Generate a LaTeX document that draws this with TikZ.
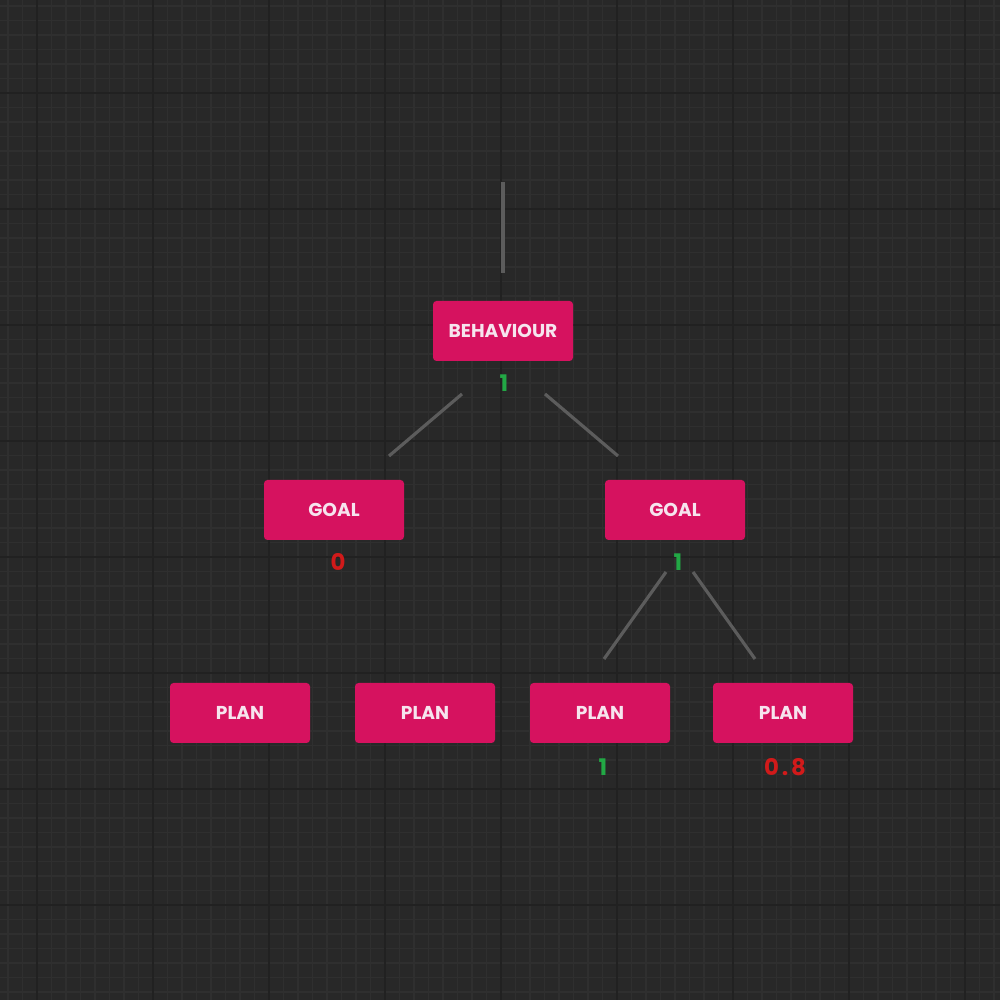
\documentclass[tikz,border=0pt]{standalone}
\usepackage{fontspec}
\setmainfont{Poppins}
\usepackage{xcolor}
\definecolor{bgcol}{HTML}{282828}
\definecolor{minorcol}{HTML}{2F2F2F}
\definecolor{majorcol}{HTML}{212121}
\definecolor{boxcol}{HTML}{D6125F}
\definecolor{boxtext}{HTML}{F6E4EE}
\definecolor{edgecol}{HTML}{5C5C5C}
\definecolor{okcol}{HTML}{22A845}
\definecolor{badcol}{HTML}{D11A1A}

\begin{document}
\begin{tikzpicture}[
  tree node/.style={fill=boxcol,text=boxtext,rounded corners=1pt,minimum width=1.4cm,
    minimum height=0.6cm,inner sep=0pt,font=\fontsize{5.3}{6}\selectfont\bfseries},
  ok value/.style={text=okcol,font=\fontsize{6.5}{7}\selectfont\bfseries},
  bad value/.style={text=badcol,font=\fontsize{6.5}{7}\selectfont\bfseries},
  link/.style={edgecol,line width=0.9pt}]
  % background and grid
  \fill[bgcol] (0,0) rectangle (10,10);
  \useasboundingbox (0,0) rectangle (10,10);
  \begin{scope}
    \clip (0,0) rectangle (10,10);
    \draw[minorcol,line width=0.4pt,shift={(0.37,0.95)},step=0.145] (-1.16,-1.16) grid (10.44,9.28);
    \draw[majorcol,line width=0.6pt,shift={(0.37,0.95)},step=1.16] (-1.16,-1.16) grid (10.44,9.28);
  \end{scope}
  % boxes
  \node[tree node] (beh)   at (5.03,6.69) {BEHAVIOUR};
  \node[tree node] (goalL) at (3.34,4.90) {GOAL};
  \node[tree node] (goalR) at (6.75,4.90) {GOAL};
  \node[tree node] (planA) at (2.40,2.87) {PLAN};
  \node[tree node] (planB) at (4.25,2.87) {PLAN};
  \node[tree node] (planC) at (6.00,2.87) {PLAN};
  \node[tree node] (planD) at (7.83,2.87) {PLAN};
  % values
  \node[ok value]  (behv)   at (5.04,6.17) {1};
  \node[bad value] (goalLv) at (3.38,4.38) {0};
  \node[ok value]  (goalRv) at (6.78,4.38) {1};
  \node[ok value]  (planCv) at (6.03,2.33) {1};
  \node[bad value] (planDv) at (7.85,2.33) {0\kern0.8pt.\kern0.8pt8};
  % connector ends
  \coordinate (top0) at (5.03,8.18);
  \coordinate (top1) at (5.03,7.27);
  \coordinate (b0)   at (4.62,6.06);
  \coordinate (b1)   at (3.89,5.44);
  \coordinate (b2)   at (5.45,6.06);
  \coordinate (b3)   at (6.18,5.44);
  \coordinate (g0)   at (6.66,4.28);
  \coordinate (g1)   at (6.04,3.41);
  \coordinate (g2)   at (6.93,4.28);
  \coordinate (g3)   at (7.55,3.41);
  \draw[link] (top0) -- (top1);
  \draw[link] (b0) -- (b1);
  \draw[link] (b2) -- (b3);
  \draw[link] (g0) -- (g1);
  \draw[link] (g2) -- (g3);
\end{tikzpicture}
\end{document}
